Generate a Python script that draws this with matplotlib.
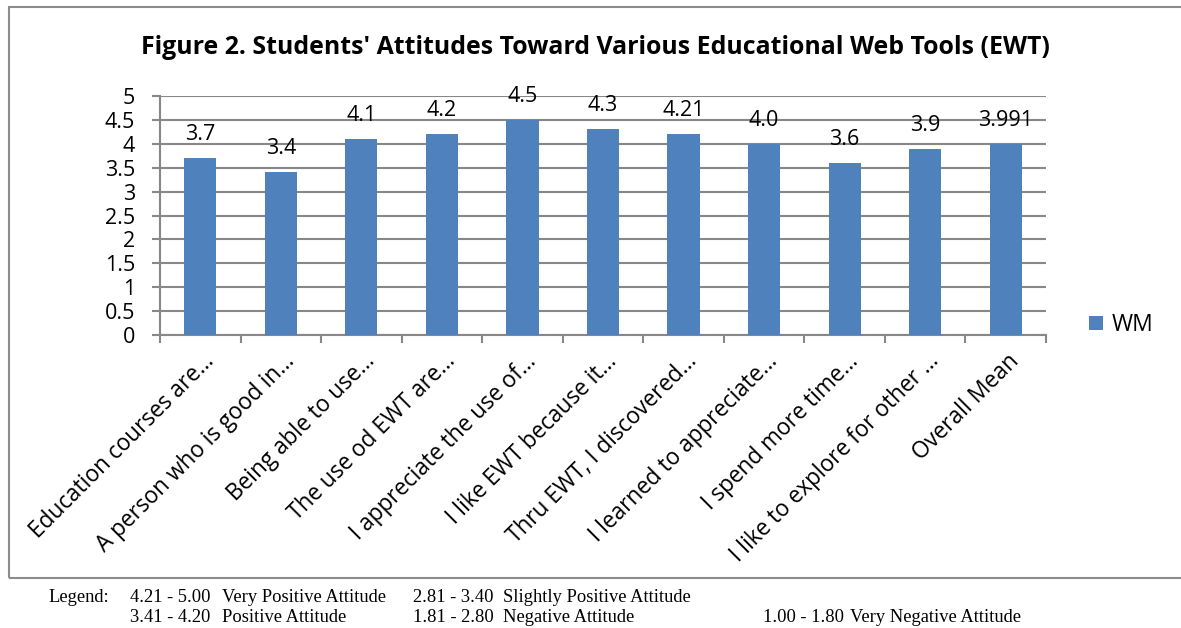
import matplotlib
matplotlib.use("Agg")
import matplotlib.pyplot as plt
from matplotlib.patches import Rectangle
from matplotlib.transforms import ScaledTranslation
import numpy as np

categories = [
    "Education courses are\u2026",
    "A person who is good in\u2026",
    "Being able to use\u2026",
    "The use od EWT are\u2026",
    "I appreciate the use of\u2026",
    "I like EWT because it\u2026",
    "Thru EWT, I discovered\u2026",
    "I learned to appreciate\u2026",
    "I spend more time\u2026",
    "I like to explore for other \u2026",
    "Overall Mean",
]
wm_values = [3.7, 3.4, 4.1, 4.2, 4.5, 4.3, 4.21, 4.0, 3.6, 3.9, 3.991]
value_labels = ["3.7", "3.4", "4.1", "4.2", "4.5", "4.3", "4.21", "4.0", "3.6", "3.9", "3.991"]
y_ticks = [0, 0.5, 1, 1.5, 2, 2.5, 3, 3.5, 4, 4.5, 5]
y_ticklabels = ["0", "0.5", "1", "1.5", "2", "2.5", "3", "3.5", "4", "4.5", "5"]
series_name = "WM"
title = "Figure 2. Students' Attitudes Toward Various Educational Web Tools (EWT)"
footer_ranges = [["4.21 - 5.00", "2.81 - 3.40", None],
                 ["3.41 - 4.20", "1.81 - 2.80", "1.00 - 1.80"]]
footer_desc = [["Very Positive Attitude", "Slightly Positive Attitude", None],
               ["Positive Attitude", "Negative Attitude", "Very Negative Attitude"]]

W, H = 1181, 628
DPI = 100
plt.rcParams["font.family"] = ["Open Sans", "DejaVu Sans"]
fig = plt.figure(figsize=(W / DPI, H / DPI), dpi=DPI)

BAR = "#4F81BD"
GRID = "#878787"
FS = 15.5

ax = fig.add_axes([160 / W, 1 - 335 / H, (1046 - 160) / W, (335 - 96) / H])
x = np.arange(len(categories))
bars = ax.bar(x, wm_values, width=0.4, color=BAR, zorder=3, label=series_name)
ax.set_xlim(-0.5, len(categories) - 0.5)
ax.set_ylim(0, 5)
ax.set_yticks(y_ticks)
ax.set_yticklabels(y_ticklabels, fontsize=FS)
ax.yaxis.grid(True, color=GRID, linewidth=1.5, zorder=0)
ax.set_axisbelow(True)
for s in ["top", "right"]:
    ax.spines[s].set_visible(False)
for s in ["left", "bottom"]:
    ax.spines[s].set_color(GRID)
    ax.spines[s].set_linewidth(1.5)
ax.tick_params(axis="y", length=6, width=1.5, color=GRID, pad=12)

ax.set_xticks(x)
ax.set_xticklabels(categories, fontsize=16.3, rotation=45, ha="right",
                   rotation_mode="anchor", va="center")
ax.tick_params(axis="x", which="major", length=0, pad=10)
ax.set_xticks(np.arange(-0.5, len(categories), 1.0), minor=True)
ax.tick_params(axis="x", which="minor", length=6, width=1.5, color=GRID)
off = ScaledTranslation(10 / DPI, -9 / DPI, fig.dpi_scale_trans)
for lab in ax.get_xticklabels():
    lab.set_transform(lab.get_transform() + off)

for xi, v, t in zip(x, wm_values, value_labels):
    ax.annotate(t, (xi, v), xytext=(0, 13), textcoords="offset points",
                ha="center", va="baseline", fontsize=FS, annotation_clip=False)

ttl = fig.text(595 / W, 1 - 47 / H, title, ha="center", va="center",
               fontsize=17, fontweight="bold")
# fit title width to the reference span
fig.canvas.draw()
wpx = ttl.get_window_extent().width
ttl.set_fontsize(17 * 910 / wpx)

fig.legend(handles=[bars], labels=[series_name], loc="center left",
           bbox_to_anchor=(1089 / W, 1 - 325 / H), frameon=False,
           fontsize=16.5, handlelength=0.6, handleheight=0.6, handletextpad=0.4,
           borderaxespad=0, borderpad=0)

frame = Rectangle((9 / W, 1 - 578 / H), 1.2, (578 - 7) / H, transform=fig.transFigure,
                  fill=False, edgecolor="#8c8c8c", linewidth=1.5)
fig.patches.append(frame)

serif = ["Liberation Serif", "DejaVu Serif"]
FFS = 13.3
fy = [1 - 597 / H, 1 - 617 / H]
fig.text(48 / W, fy[0], "Legend:", family=serif, fontsize=FFS, va="center")
range_x = [130, 413, 763]
desc_x = [222, 503, 850]
for r in range(2):
    for c in range(3):
        if footer_ranges[r][c] is None:
            continue
        fig.text(range_x[c] / W, fy[r], footer_ranges[r][c], family=serif,
                 fontsize=FFS, va="center")
        fig.text(desc_x[c] / W, fy[r], footer_desc[r][c], family=serif,
                 fontsize=FFS, va="center")

fig.savefig("out.png", dpi=DPI)
